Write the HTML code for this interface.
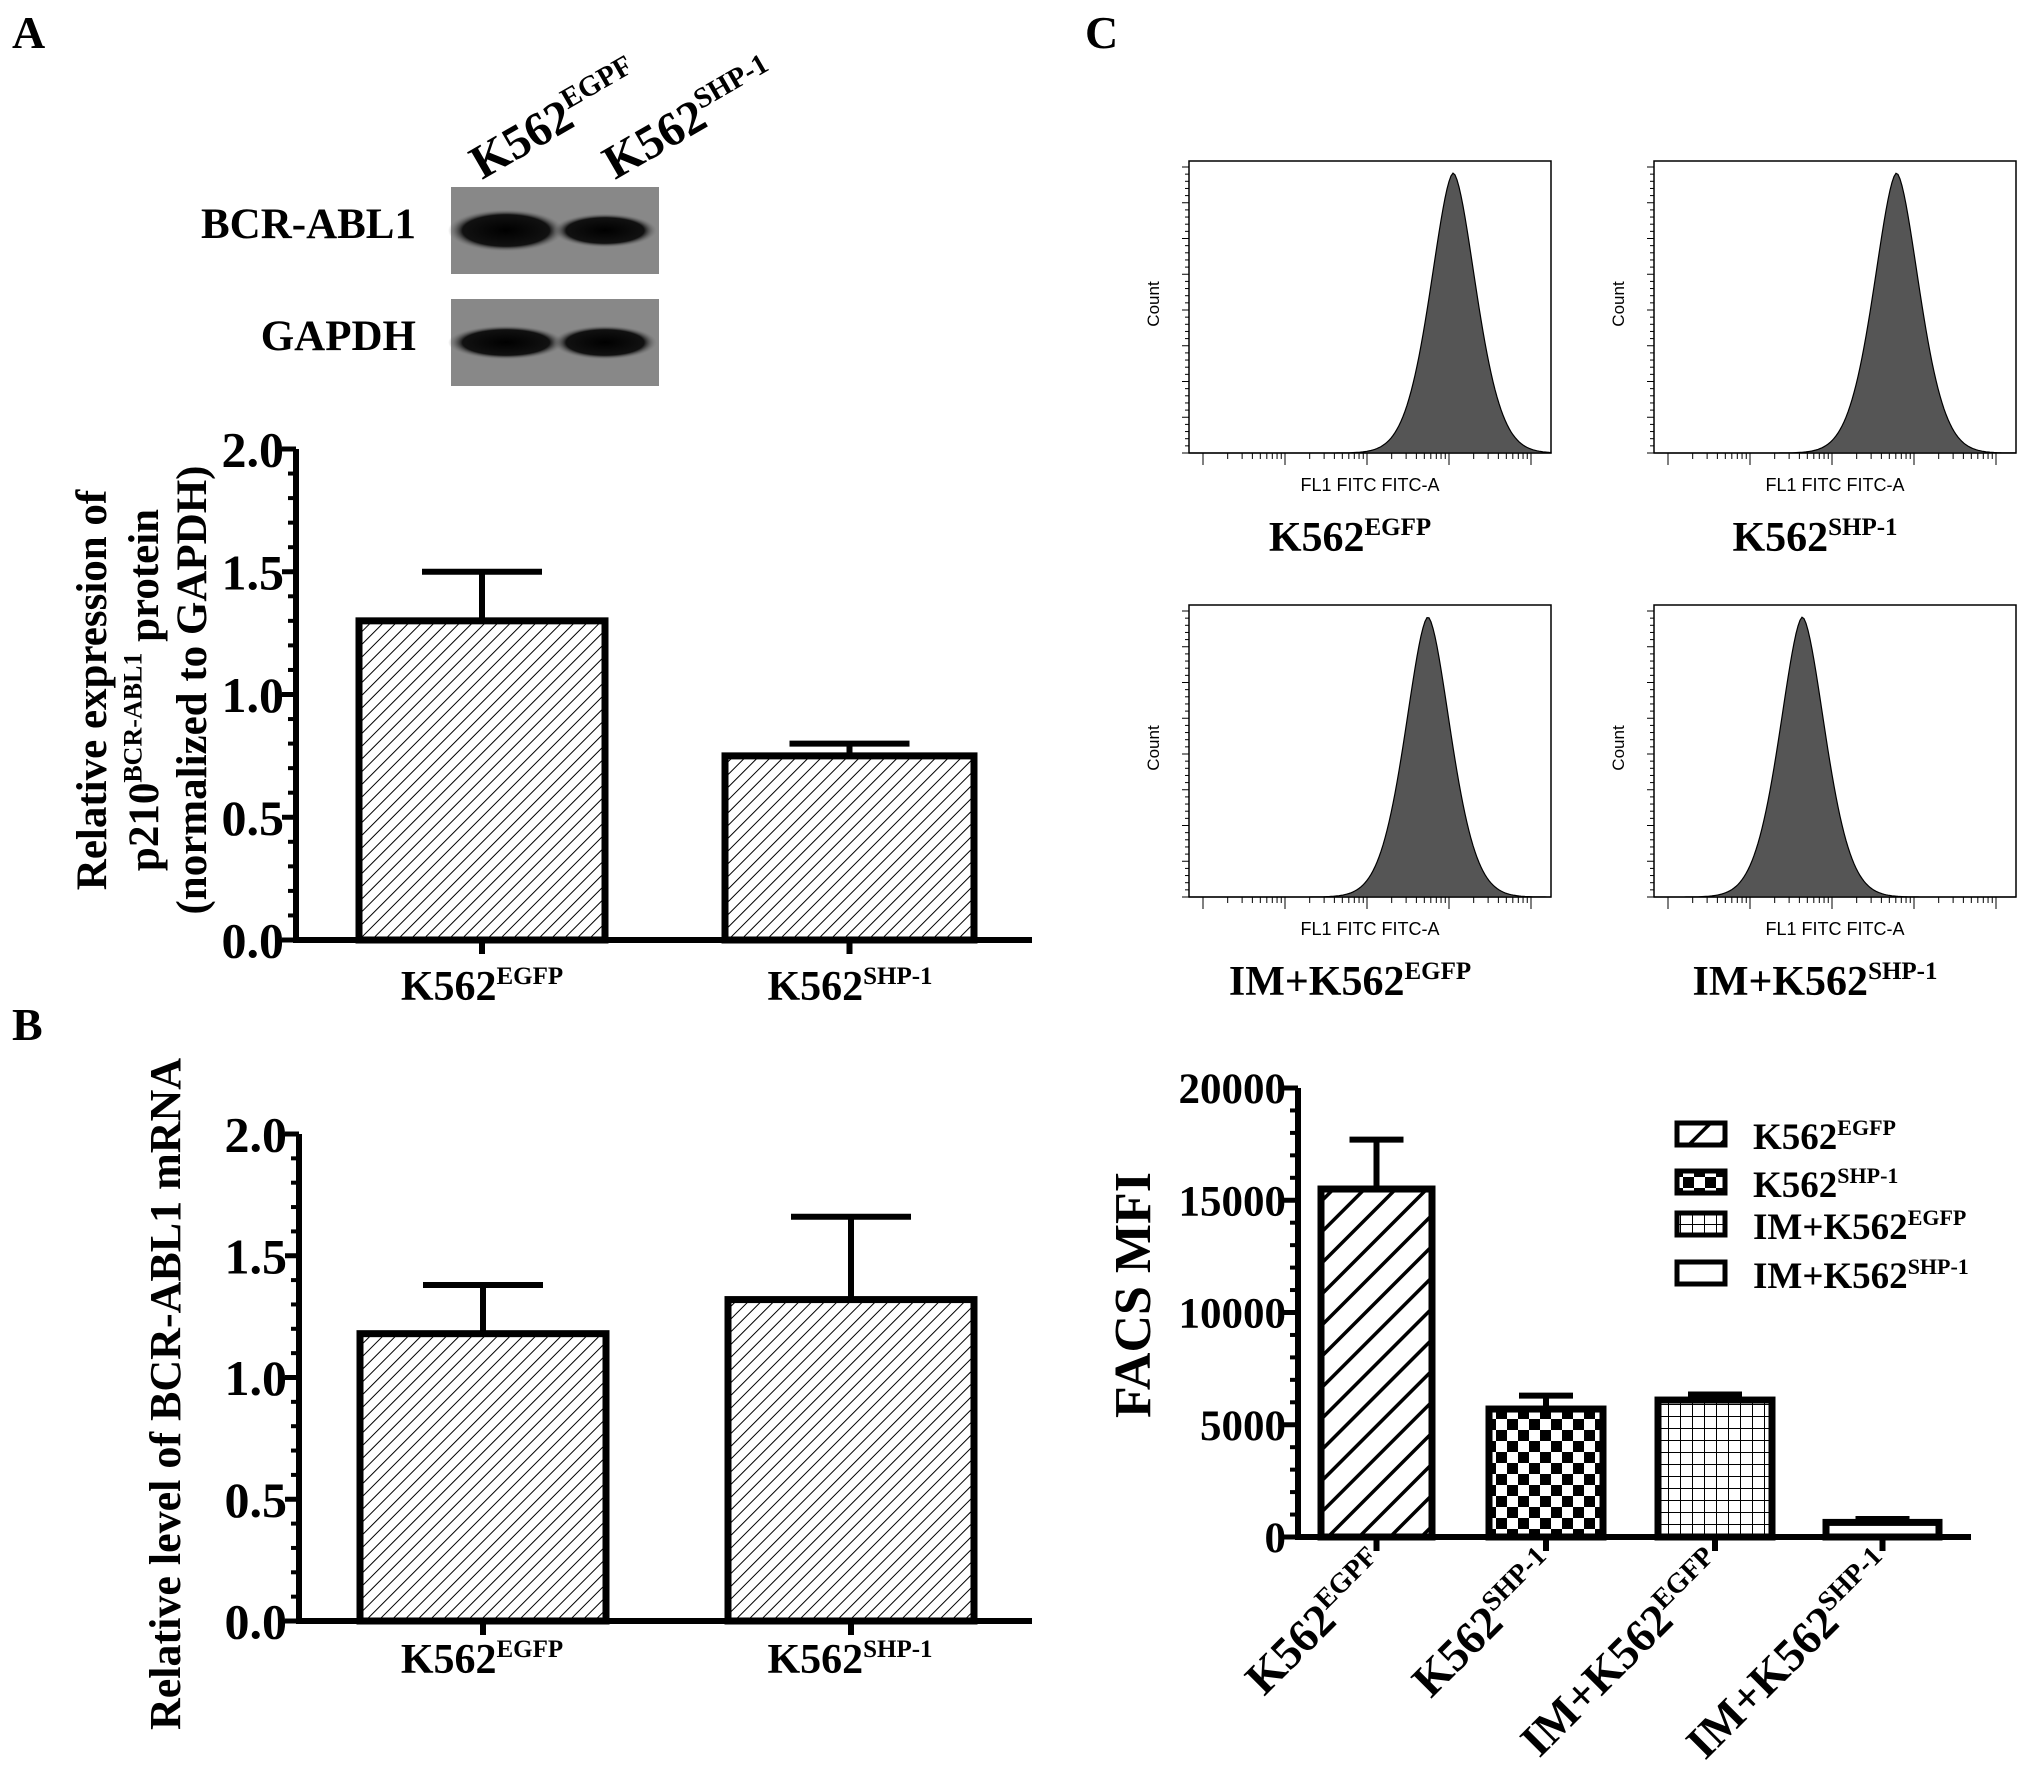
<!DOCTYPE html>
<html><head><meta charset="utf-8"><style>
html,body{margin:0;padding:0;background:#fff;overflow:hidden}
svg{display:block}
text{font-family:"Liberation Serif",serif;font-weight:bold;fill:#000}
.sans{font-family:"Liberation Sans",sans-serif;font-weight:normal}
</style></head><body>
<svg id="fig" width="2031" height="1772" viewBox="0 0 2031 1772" xmlns="http://www.w3.org/2000/svg">
<defs>
<pattern id="fineHatch" patternUnits="userSpaceOnUse" width="9" height="9" patternTransform="rotate(45)"><rect width="9" height="9" fill="#fff"/><line x1="0" y1="0" x2="0" y2="9" stroke="#000" stroke-width="2"/></pattern>
<pattern id="thickHatch" patternUnits="userSpaceOnUse" width="22" height="22" patternTransform="rotate(45)"><rect width="22" height="22" fill="#fff"/><line x1="0" y1="0" x2="0" y2="22" stroke="#000" stroke-width="7"/></pattern>
<pattern id="checker" patternUnits="userSpaceOnUse" width="22" height="22"><rect width="22" height="22" fill="#fff"/><rect width="11" height="11" fill="#000"/><rect x="11" y="11" width="11" height="11" fill="#000"/></pattern>
<pattern id="grid" patternUnits="userSpaceOnUse" width="12" height="12"><rect width="12" height="12" fill="#fff"/><path d="M0 0H12M0 0V12" stroke="#000" stroke-width="2"/></pattern>
<radialGradient id="band"><stop offset="0" stop-color="#000"/><stop offset="0.75" stop-color="#111"/><stop offset="1" stop-color="#777" stop-opacity="0"/></radialGradient>
</defs>
<g id="root"></g>
</svg>
<script>
// Panel A data
const aCategories = ["K562|EGFP", "K562|SHP-1"];
const aValues = [1.30, 0.75];
const aErrors = [1.50, 0.80];
const aTicks = ["0.0", "0.5", "1.0", "1.5", "2.0"];
// Panel B data
const bCategories = ["K562|EGFP", "K562|SHP-1"];
const bValues = [1.18, 1.32];
const bErrors = [1.38, 1.66];
const bTicks = ["0.0", "0.5", "1.0", "1.5", "2.0"];
// Panel C bar data
const cCategories = ["K562|EGPF", "K562|SHP-1", "IM+K562|EGFP", "IM+K562|SHP-1"];
const cValues = [15500, 5700, 6100, 650];
const cErrors = [17700, 6300, 6350, 800];
const cTicks = ["0", "5000", "10000", "15000", "20000"];
const cLegend = ["K562|EGFP", "K562|SHP-1", "IM+K562|EGFP", "IM+K562|SHP-1"];
// Flow histogram peak positions (fraction of axis) and labels
const flowPeaks = [0.73, 0.67, 0.66, 0.41];
const flowLabels = ["K562|EGFP", "K562|SHP-1", "IM+K562|EGFP", "IM+K562|SHP-1"];

const NS = "http://www.w3.org/2000/svg";
const root = document.getElementById("root");
function mk(tag, attrs, parent) {
  const e = document.createElementNS(NS, tag);
  for (const k in attrs) e.setAttribute(k, attrs[k]);
  (parent || root).appendChild(e);
  return e;
}
function supText(x, y, label, size, anchor, parent, transform, tail) {
  const [base, sup] = label.split("|");
  const t = mk("text", {x: x, y: y, "font-size": size, "text-anchor": anchor || "middle"}, parent);
  if (transform) t.setAttribute("transform", transform);
  const s1 = document.createElementNS(NS, "tspan"); s1.textContent = base; t.appendChild(s1);
  if (sup) {
    const s2 = document.createElementNS(NS, "tspan");
    s2.setAttribute("font-size", Math.round(size * 0.6));
    s2.setAttribute("dy", -size * 0.38);
    s2.textContent = sup; t.appendChild(s2);
  }
  if (tail) {
    const s3 = document.createElementNS(NS, "tspan");
    s3.setAttribute("dy", size * 0.38);
    s3.textContent = tail; t.appendChild(s3);
  }
  return t;
}

function barChart(o) {
  const g = mk("g", {});
  
  
  const y = v => o.y0 - (v - o.min) / (o.max - o.min) * (o.y0 - o.y1);
  for (let i = 0; i <= o.minorN; i++) {
    const yy = o.y0 - i * (o.y0 - o.y1) / o.minorN;
    mk("line", {x1: o.ax - 8, x2: o.ax, y1: yy, y2: yy, stroke: "#000", "stroke-width": 4}, g);
  }
  o.ticks.forEach((tl, i) => {
    const v = o.min + i * (o.max - o.min) / (o.ticks.length - 1);
    mk("line", {x1: o.ax - 14, x2: o.ax, y1: y(v), y2: y(v), stroke: "#000", "stroke-width": 5}, g);
    const t = mk("text", {x: o.ax - 12, y: y(v) + o.tickFs * 0.35, "font-size": o.tickFs, "text-anchor": "end"}, g);
    t.textContent = tl;
    
    
  });
  o.values.forEach((v, i) => {
    const [x0, x1] = o.bars[i];
    const cx = (x0 + x1) / 2;
    mk("line", {x1: cx, x2: cx, y1: y(v), y2: y(o.errors[i]), stroke: "#000", "stroke-width": 6}, g);
    mk("line", {x1: cx - o.capW, x2: cx + o.capW, y1: y(o.errors[i]), y2: y(o.errors[i]), stroke: "#000", "stroke-width": 6}, g);
    const r = mk("rect", {x: x0, y: y(v), width: x1 - x0, height: o.y0 - y(v), fill: o.fills[i] === "white" ? "#fff" : "url(#" + o.fills[i] + ")", stroke: "#000", "stroke-width": 7}, g);
    
    
    mk("line", {x1: cx, x2: cx, y1: o.y0, y2: o.y0 + 14, stroke: "#000", "stroke-width": 6}, g);
  });
  mk("line", {x1: o.ax, x2: o.ax, y1: o.y0 + 2, y2: o.y1, stroke: "#000", "stroke-width": 6}, g);
  mk("line", {x1: o.ax - 3, x2: o.axEnd, y1: o.y0, y2: o.y0, stroke: "#000", "stroke-width": 6}, g);
  return {g, y};
}

[["A", 12, 48], ["B", 12, 1040], ["C", 1085, 48]].forEach(([l, x, yy]) => {
  const t = mk("text", {x: x, y: yy, "font-size": 46});
  t.textContent = l;
  
  
});

// Western blot
const blot = mk("g", {});


[[187, 274], [299, 386]].forEach(([y0, y1], k) => {
  mk("rect", {x: 451, y: y0, width: 208, height: y1 - y0, fill: "#888"}, blot);
  const cy = (y0 + y1) / 2;
  mk("ellipse", {cx: 506, cy: cy, rx: 58, ry: k === 0 ? 21 : 17, fill: "url(#band)"}, blot);
  mk("ellipse", {cx: 605, cy: cy, rx: 52, ry: 17, fill: "url(#band)"}, blot);
});
let t = mk("text", {x: 416, y: 238, "font-size": 43, "text-anchor": "end"}, blot); t.textContent = "BCR-ABL1";
t = mk("text", {x: 416, y: 350, "font-size": 43, "text-anchor": "end"}, blot); t.textContent = "GAPDH";
supText(482, 180, "K562|EGPF", 48, "start", blot, "rotate(-30 482 180)");
supText(615, 180, "K562|SHP-1", 48, "start", blot, "rotate(-30 615 180)");

// Panel A chart
const A = barChart({name: "chart-a", ax: 296, y0: 940, y1: 449, axEnd: 1032, min: 0, max: 2, minorN: 20,
  ticks: aTicks, values: aValues, errors: aErrors, bars: [[359, 605], [725, 974]], fills: ["fineHatch", "fineHatch"], capW: 60, tickFs: 50});
aCategories.forEach((c, i) => {
  const l = supText([482, 850][i], 1000, c, 42, "middle", A.g);
  
  
});
const aTitle = mk("g", {transform: "translate(151 690) rotate(-90)"}, A.g);


t = mk("text", {x: 0, y: -45, "font-size": 43, "text-anchor": "middle"}, aTitle); t.textContent = "Relative expression of";
supText(0, 7, "p210|BCR-ABL1", 43, "middle", aTitle, null, " protein");
t = mk("text", {x: 0, y: 55, "font-size": 43, "text-anchor": "middle"}, aTitle); t.textContent = "(normalized to GAPDH)";

// Panel B chart
const B = barChart({name: "chart-b", ax: 299, y0: 1621, y1: 1134, axEnd: 1032, min: 0, max: 2, minorN: 20,
  ticks: bTicks, values: bValues, errors: bErrors, bars: [[360, 606], [728, 974]], fills: ["fineHatch", "fineHatch"], capW: 60, tickFs: 50});
bCategories.forEach((c, i) => {
  const l = supText([482, 850][i], 1673, c, 42, "middle", B.g);
  
  
});
t = mk("text", {x: 0, y: 0, "font-size": 44, "text-anchor": "middle", transform: "translate(180 1394) rotate(-90)"}, B.g);
t.textContent = "Relative level of BCR-ABL1 mRNA";



// Flow histograms
const boxes = [[1189, 161], [1654, 161], [1189, 605], [1654, 605]];
boxes.forEach(([bx, by], k) => {
  const W = 362, H = 292;
  const g = mk("g", {});
  
  
  mk("rect", {x: bx, y: by, width: W, height: H, fill: "#fff", stroke: "#000", "stroke-width": 1.5}, g);
  for (let i = 0; i <= 40; i++) mk("line", {x1: bx - (i % 5 === 0 ? 7 : 4), x2: bx, y1: by + 6 + i * (H - 6) / 40, y2: by + 6 + i * (H - 6) / 40, stroke: "#000", "stroke-width": 1}, g);
  for (let d = 0; d < 5; d++) {
    const dx0 = bx + 14 + d * 82;
    for (let m = 1; m < 10; m++) {
      const xx = dx0 + Math.log10(m) * 82;
      if (xx < bx + W - 8) mk("line", {x1: xx, x2: xx, y1: by + H, y2: by + H + (m === 1 ? 12 : 6), stroke: "#000", "stroke-width": 1}, g);
    }
  }
  const pc = bx + flowPeaks[k] * W, sig = 22;
  let d = "M" + bx + " " + (by + H);
  for (let x = bx; x <= bx + W; x += 2) {
    const z = (x - pc) / sig;
    const yy = by + H - (H - 12) * Math.exp(-Math.pow(Math.abs(z), 1.7) / 2);
    d += " L" + x + " " + yy.toFixed(1);
  }
  d += " L" + (bx + W) + " " + (by + H) + " Z";
  mk("path", {d: d, fill: "#555", stroke: "#000", "stroke-width": 1.2}, g);
  let tt = mk("text", {x: 0, y: 0, "font-size": 17, class: "sans", transform: "translate(" + (bx - 30) + " " + (by + 143) + ") rotate(-90)", "text-anchor": "middle"}, g);
  tt.textContent = "Count";
  tt = mk("text", {x: bx + W / 2, y: by + 330, "font-size": 18, class: "sans", "text-anchor": "middle"}, g);
  tt.textContent = "FL1  FITC FITC-A";
  supText(bx + W / 2 - 20, by + 390, flowLabels[k], 42, "middle", g);
});

// Panel C bar chart
const C = barChart({name: "chart-c", ax: 1298, y0: 1537, y1: 1088, axEnd: 1971, min: 0, max: 20000, minorN: 20,
  ticks: cTicks, values: cValues, errors: cErrors, bars: [[1321, 1432], [1489, 1603], [1658, 1772], [1826, 1939]],
  fills: ["thickHatch", "checker", "grid", "white"], capW: 27, tickFs: 43});
cCategories.forEach((c, i) => {
  const x = [1377, 1546, 1714, 1882][i];
  const l = supText(x + 14, 1570, c, 46, "end", C.g, "rotate(-45 " + (x + 14) + " 1570)");
  
  
});
t = mk("text", {x: 0, y: 0, "font-size": 52, "text-anchor": "middle", transform: "translate(1150 1295) rotate(-90)"}, C.g);
t.textContent = "FACS MFI";


const legFills = ["thickHatch", "checker", "grid", "white"];
cLegend.forEach((c, i) => {
  const yy = [1134, 1182, 1224, 1273][i];
  const lg = mk("g", {}, C.g);
  
  
  mk("rect", {x: 1677, y: yy - 11, width: 48, height: 22, fill: legFills[i] === "white" ? "#fff" : "url(#" + legFills[i] + ")", stroke: "#000", "stroke-width": 5}, lg);
  supText(1753, yy + 15, c, 37, "start", lg);
});
</script>
</body></html>
